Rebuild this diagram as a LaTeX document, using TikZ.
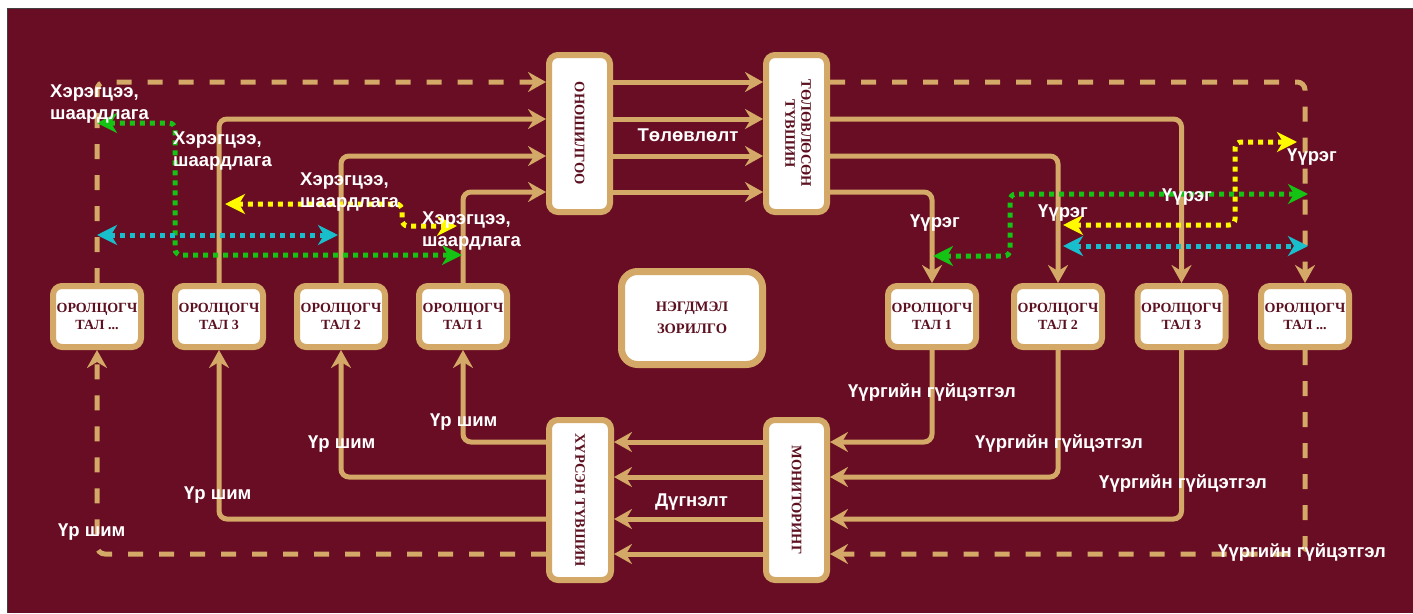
\documentclass[tikz,border=0pt]{standalone}
\usepackage{fontspec}
\setmainfont{Liberation Serif}
\newfontfamily\lblfont{Liberation Sans}
\usetikzlibrary{arrows.meta}

\definecolor{bg}{RGB}{105,13,36}
\definecolor{tanc}{RGB}{212,168,102}
\definecolor{boxtxt}{RGB}{92,16,32}
\definecolor{dgreen}{RGB}{20,195,20}
\definecolor{dyellow}{RGB}{255,250,0}
\definecolor{dcyan}{RGB}{25,190,205}

\tikzset{
  boxbase/.style={draw=tanc, line width=6pt, fill=white, rounded corners=9pt, text=boxtxt, inner sep=0pt, align=center},
  vbox/.style={boxbase, minimum width=61pt, minimum height=157pt, font=\bfseries\fontsize{14.5}{16}\selectfont},
  pbox/.style={boxbase, minimum width=88pt, minimum height=61pt, font=\bfseries\fontsize{14}{17}\selectfont},
  goalbox/.style={boxbase, line width=7pt, rounded corners=16pt, minimum width=141pt, minimum height=93pt, font=\bfseries\fontsize{14.5}{22}\selectfont},
  flow/.style={draw=tanc, line width=5pt, rounded corners=8pt, -{Stealth[length=18pt,width=20pt,inset=6pt]}},
  dflow/.style={flow, dash pattern=on 15pt off 16pt},
  dots/.style={line width=5pt, dash pattern=on 5pt off 5pt, rounded corners=6pt, {Stealth[length=20pt,width=20pt,inset=6pt]}-{Stealth[length=20pt,width=20pt,inset=6pt]}},
  lbl/.style={text=white, font=\lblfont\bfseries\fontsize{18.5}{22}\selectfont, inner sep=0pt, align=left},
}

\begin{document}
\begin{tikzpicture}[x=1pt,y=-1pt]
\useasboundingbox (0,0) rectangle (1413,613);
\fill[white] (0,0) rectangle (1413,613);
\fill[bg] (7,8) rectangle (1413,613);
\draw[black!75, line width=1pt] (7,613) -- (7,8) -- (1413,8);

% boxes
\node[vbox] (diag) at (579.5,133.5) {\rotatebox{-90}{ОНОШИЛГОО}};
\node[vbox] (plan) at (796.5,133.5) {\rotatebox{-90}{\begin{tabular}{@{}c@{}}ТӨЛӨВЛӨСӨН\\ТҮВШИН\end{tabular}}};
\node[vbox, minimum width=62pt, minimum height=160pt] (ach) at (580,500) {\rotatebox{-90}{ХҮРСЭН ТҮВШИН}};
\node[vbox, minimum height=160pt] (mon) at (796.5,500) {\rotatebox{-90}{МОНИТОРИНГ}};
\node[goalbox] (goal) at (692,318) {НЭГДМЭЛ\\ЗОРИЛГО};

\node[pbox] (pL4) at (97,316.5) {ОРОЛЦОГЧ\\ТАЛ ...};
\node[pbox] (pL3) at (219,316.5) {ОРОЛЦОГЧ\\ТАЛ 3};
\node[pbox] (pL2) at (341,316.5) {ОРОЛЦОГЧ\\ТАЛ 2};
\node[pbox] (pL1) at (463,316.5) {ОРОЛЦОГЧ\\ТАЛ 1};
\node[pbox] (pR1) at (932,316.5) {ОРОЛЦОГЧ\\ТАЛ 1};
\node[pbox] (pR2) at (1058,316.5) {ОРОЛЦОГЧ\\ТАЛ 2};
\node[pbox] (pR3) at (1181.5,316.5) {ОРОЛЦОГЧ\\ТАЛ 3};
\node[pbox] (pR4) at (1305,316.5) {ОРОЛЦОГЧ\\ТАЛ ...};

% levels
\coordinate (yA) at (0,82);
\coordinate (yB) at (0,119);
\coordinate (yC) at (0,156);
\coordinate (yD) at (0,192);
\coordinate (yE) at (0,442);
\coordinate (yF) at (0,477);
\coordinate (yG) at (0,519);
\coordinate (yH) at (0,554);

% needs -> diagnosis
\draw[dflow] (pL4.north) |- (diag.west |- yA);
\draw[flow] (pL3.north) |- (diag.west |- yB);
\draw[flow] (pL2.north) |- (diag.west |- yC);
\draw[flow] (pL1.north) |- (diag.west |- yD);
% diagnosis -> plan
\draw[flow] (diag.east |- yA) -- (plan.west |- yA);
\draw[flow] (diag.east |- yB) -- (plan.west |- yB);
\draw[flow] (diag.east |- yC) -- (plan.west |- yC);
\draw[flow] (diag.east |- yD) -- (plan.west |- yD);
% plan -> roles
\draw[dflow] (plan.east |- yA) -| (pR4.north);
\draw[flow] (plan.east |- yB) -| (pR3.north);
\draw[flow] (plan.east |- yC) -| (pR2.north);
\draw[flow] (plan.east |- yD) -| (pR1.north);
% performance -> monitoring
\draw[flow] (pR1.south) |- (mon.east |- yE);
\draw[flow] (pR2.south) |- (mon.east |- yF);
\draw[flow] (pR3.south) |- (mon.east |- yG);
\draw[dflow] (pR4.south) |- (mon.east |- yH);
% monitoring -> achieved
\draw[flow] (mon.west |- yE) -- (ach.east |- yE);
\draw[flow] (mon.west |- yF) -- (ach.east |- yF);
\draw[flow] (mon.west |- yG) -- (ach.east |- yG);
\draw[flow] (mon.west |- yH) -- (ach.east |- yH);
% achieved -> impact
\draw[flow] (ach.west |- yE) -| (pL1.south);
\draw[flow] (ach.west |- yF) -| (pL2.south);
\draw[flow] (ach.west |- yG) -| (pL3.south);
\draw[dflow] (ach.west |- yH) -| (pL4.south);

% dotted exchanges, left
\coordinate (gLa) at (97,123);
\coordinate (gLc) at (175,255);
\coordinate (gLb) at (462,255);
\coordinate (yLa) at (225,204);
\coordinate (yLc) at (402,226);
\coordinate (yLb) at (457,226);
\coordinate (cLa) at (97,235);
\coordinate (cLb) at (338,235);
\draw[dots, dgreen] (gLa) -| (gLc) -- (gLb);
\draw[dots, dyellow] (yLa) -| (yLc) -- (yLb);
\draw[dots, dcyan] (cLa) -- (cLb);

% dotted exchanges, right
\coordinate (gRa) at (933,256);
\coordinate (gRc) at (1010,194);
\coordinate (gRb) at (1308,194);
\coordinate (yRa) at (1063,225);
\coordinate (yRc) at (1235,142);
\coordinate (yRb) at (1297,142);
\coordinate (cRa) at (1063,246);
\coordinate (cRb) at (1308,246);
\draw[dots, dgreen] (gRa) -| (gRc) -- (gRb);
\draw[dots, dyellow] (yRa) -| (yRc) -- (yRb);
\draw[dots, dcyan] (cRa) -- (cRb);

% labels
\node[lbl, anchor=west] (lh1) at (50,104) {Хэрэгцээ,\\шаардлага};
\node[lbl, anchor=west] (lh2) at (173,151) {Хэрэгцээ,\\шаардлага};
\node[lbl, anchor=west] (lh3) at (300,192) {Хэрэгцээ,\\шаардлага};
\node[lbl, anchor=west] (lh4) at (422,231.5) {Хэрэгцээ,\\шаардлага};
\node[lbl] (lplan) at (688,135) {Төлөвлөлт};
\node[lbl] (lconc) at (691.5,502) {Дүгнэлт};
\node[lbl, anchor=west] (li1) at (430,422) {Үр шим};
\node[lbl, anchor=west] (li2) at (308,444) {Үр шим};
\node[lbl, anchor=west] (li3) at (184,495) {Үр шим};
\node[lbl, anchor=west] (li4) at (58,532) {Үр шим};
\node[lbl, anchor=west] (lr1) at (910,223) {Үүрэг};
\node[lbl, anchor=west] (lr2) at (1038,213) {Үүрэг};
\node[lbl, anchor=west] (lr3) at (1162,197) {Үүрэг};
\node[lbl, anchor=west] (lr4) at (1287,157) {Үүрэг};
\node[lbl, anchor=west] (lp1) at (848,393) {Үүргийн гүйцэтгэл};
\node[lbl, anchor=west] (lp2) at (975,444) {Үүргийн гүйцэтгэл};
\node[lbl, anchor=west] (lp3) at (1099,484) {Үүргийн гүйцэтгэл};
\node[lbl, anchor=west] (lp4) at (1218,553) {Үүргийн гүйцэтгэл};
\end{tikzpicture}
\end{document}
